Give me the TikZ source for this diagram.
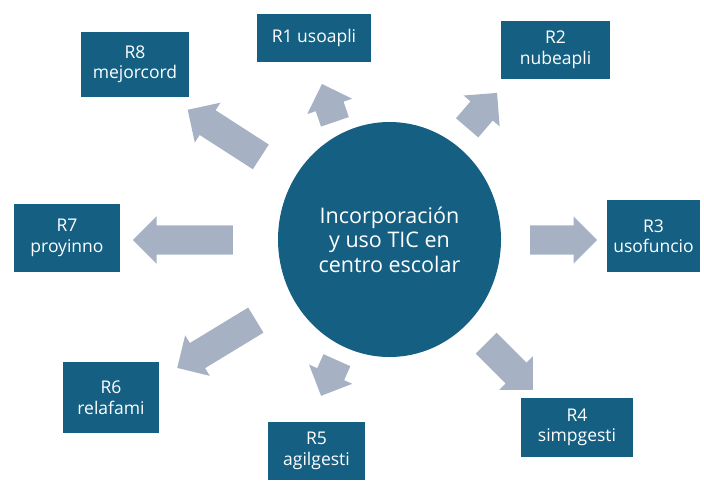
\documentclass[tikz,border=0pt]{standalone}
\usepackage{fontspec}
\setmainfont{Open Sans}
\usetikzlibrary{shapes.geometric,shapes.arrows}
\definecolor{tealbox}{HTML}{156082}
\definecolor{arrowgray}{HTML}{A6B2C3}

\begin{document}
\begin{tikzpicture}[%
      x=1pt, y=-1pt,
      rbox/.style={fill=tealbox, text=white, align=center, inner sep=0pt,
        font=\fontsize{17.5}{20.5}\selectfont},
      blockarrow/.style={single arrow, fill=arrowgray, inner xsep=0pt, inner ysep=14.5pt,
        minimum width=47pt, single arrow head extend=9pt, anchor=tail},
      ]
      \useasboundingbox (0,0) rectangle (704,480);

      \node[ellipse, fill=tealbox, minimum width=223pt, minimum height=235pt,
        text=white, align=center, font=\fontsize{21.5}{24.5}\selectfont]
        (tic) at (389.5,239.5) {Incorporación\\y uso TIC en\\centro escolar};

      \node[rbox, minimum width=114pt, minimum height=48pt] (r1) at (314,38) {R1 usoapli};
      \node[rbox, minimum width=109pt, minimum height=58pt] (r2) at (555.5,50) {R2\\nubeapli};
      \node[rbox, minimum width=93pt, minimum height=72pt] (r3) at (653.5,236) {R3\\usofuncio};
      \node[rbox, minimum width=112pt, minimum height=59pt] (r4) at (577,427.5) {R4\\simpgesti};
      \node[rbox, minimum width=97pt, minimum height=58pt] (r5) at (316.5,451) {R5\\agilgesti};
      \node[rbox, minimum width=96pt, minimum height=71pt] (r6) at (111,397.5) {R6\\relafami};
      \node[rbox, minimum width=106pt, minimum height=68pt] (r7) at (67,238) {R7\\proyinno};
      \node[rbox, minimum width=108pt, minimum height=65pt] (r8) at (135,64.5) {R8\\mejorcord};

      % block arrows, placed by their tail
      \node[blockarrow, minimum height=40pt, rotate=108.9] (a1) at (335,122) {};
      \node[blockarrow, minimum height=46pt, rotate=49.4] (a2) at (467,128) {};
      \node[blockarrow, minimum height=67pt, rotate=0] (a3) at (530,240) {};
      \node[blockarrow, minimum height=66pt, rotate=-45] (a4) at (486,343) {};
      \node[blockarrow, minimum height=39pt, rotate=-114] (a5) at (337,360) {};
      \node[blockarrow, minimum height=92pt, rotate=-148.7] (a6) at (256,320) {};
      \node[blockarrow, minimum height=100pt, rotate=180] (a7) at (233,240) {};
      \node[blockarrow, minimum height=87pt, rotate=147.2] (a8) at (261,157) {};
\end{tikzpicture}
\end{document}
